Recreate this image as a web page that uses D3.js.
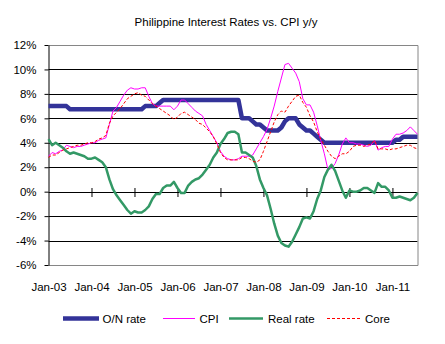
<!DOCTYPE html>
<html><head><meta charset="utf-8">
<script src="https://cdn.jsdelivr.net/npm/d3@7"></script>
<style>
html,body{margin:0;padding:0;background:#fff;}
svg text{font-family:"Liberation Sans",Arial,sans-serif;fill:#000;}
</style></head>
<body><svg id="chart" width="445" height="344"></svg>
<script>
// Monthly data, Jan-2003 .. Aug-2011 (index 0 = Jan-2003)
const startYear = 2003;
const onRate = [7,7,7,7,7,7,
 6.75,6.75,6.75,6.75,6.75,6.75,6.75,6.75,6.75,6.75,6.75,6.75,6.75,6.75,6.75,6.75,6.75,6.75,6.75,6.75,6.75,
 7,7,7,7,7.25,
 7.5,7.5,7.5,7.5,7.5,7.5,7.5,7.5,7.5,7.5,7.5,7.5,7.5,7.5,7.5,7.5,7.5,7.5,7.5,7.5,7.5,7.5,
 6,6,6,5.75,5.5,5.5,5.25,5,5,5,5,5.25,5.75,6,6,6,
 5.5,5.25,5,5,4.75,4.5,4.25,
 4,4,4,4,4,4,4,4,4,4,4,4,4,4,4,4,4,4,4,4,
 4.25,4.25,4.5,4.5,4.5,4.5,4.5];
const cpi = [2.9,3.2,3.1,3.3,3.4,3.8,3.7,3.6,3.7,3.7,3.8,3.9,
 4.0,4.0,4.2,4.3,4.4,5.5,6.6,6.9,7.4,7.9,8.3,8.5,
 8.4,8.4,8.5,8.5,7.8,7.2,7.0,7.0,7.0,7.0,7.0,6.7,
 7.0,7.5,7.5,7.2,6.9,6.6,6.4,6.2,5.5,5.0,4.5,4.0,
 3.3,2.9,2.7,2.6,2.6,2.7,2.9,2.9,2.9,3.0,3.5,4.0,
 4.5,5.1,6.0,7.0,8.2,9.3,10.4,10.5,10.1,9.7,9.0,7.6,
 7.1,7.1,6.5,5.4,4.2,3.1,1.8,1.9,2.3,3.0,3.9,4.4,
 4.0,4.0,3.9,3.9,3.8,3.7,3.8,4.2,3.4,3.6,3.7,3.7,
 4.3,4.7,4.7,4.8,5.0,5.3,5.0,4.7];
const realRate = [4.3,3.8,4.0,3.8,3.6,3.3,3.1,3.2,3.1,3.0,2.9,2.7,
 2.7,2.8,2.6,2.4,2.0,1.0,0.2,-0.3,-0.7,-1.1,-1.5,-1.8,
 -1.6,-1.7,-1.7,-1.5,-1.2,-0.6,-0.2,-0.2,0.3,0.5,0.5,0.8,
 0.3,-0.1,-0.1,0.5,0.8,1.0,1.1,1.4,1.8,2.2,2.8,3.2,
 3.9,4.3,4.8,4.9,4.9,4.7,3.2,3.2,3.0,2.8,2.1,1.0,
 0.3,-0.3,-1.4,-2.6,-3.6,-4.2,-4.4,-4.5,-4.1,-3.5,-2.9,-2.2,
 -2.1,-2.2,-1.6,-0.6,0.1,1.2,1.8,2.2,1.7,0.9,0.1,-0.5,
 0.1,0.0,0.0,0.1,0.3,0.3,0.1,-0.1,0.7,0.4,0.4,0.1,
 -0.5,-0.5,-0.4,-0.5,-0.6,-0.7,-0.5,-0.1];
const core = [2.8,3.0,3.0,3.2,3.4,3.5,3.6,3.7,3.8,3.8,3.9,4.0,
 4.0,4.1,4.3,4.4,4.6,5.6,6.2,6.5,6.8,7.2,7.6,7.8,
 8.0,8.1,7.9,7.8,7.5,7.2,7.0,6.8,6.6,6.4,6.2,5.9,
 6.1,6.4,6.5,6.3,6.1,5.9,5.6,5.5,5.2,4.9,4.5,3.9,
 3.2,2.8,2.6,2.6,2.6,2.6,2.8,2.8,2.7,2.5,2.4,2.6,
 3.3,4.1,4.9,5.7,6.3,6.6,6.5,7.0,7.4,7.8,7.9,7.3,
 6.9,6.2,5.7,4.9,4.3,3.8,3.3,2.9,2.7,2.9,3.1,3.1,
 3.3,3.7,3.8,3.8,3.7,3.8,3.9,4.2,3.5,3.5,3.5,3.4,
 3.5,3.5,3.6,3.7,3.8,3.8,3.6,3.5];
const xTickLabels = ["Jan-03","Jan-04","Jan-05","Jan-06","Jan-07","Jan-08","Jan-09","Jan-10","Jan-11"];
const yTicks = [-6,-4,-2,0,2,4,6,8,10,12];
const seriesNames = ["O/N rate","CPI","Real rate","Core"];
const titleText = "Philippine Interest Rates vs. CPI y/y";

const svg = d3.select("#chart");
const L = 48.5, R = 417.5, T = 45, B = 265;
const x = d3.scaleLinear().domain([0, onRate.length - 1]).range([L, R]);
const y = d3.scaleLinear().domain([-6, 12]).range([B, T]);

svg.append("text").attr("x", 226).attr("y", 26).attr("text-anchor","middle")
  .style("font-size","11.5px").text(titleText);

// gridlines
svg.append("g").selectAll("line").data(yTicks.filter(d => d > -6 && d < 12)).join("line")
  .attr("x1", L).attr("x2", R).attr("y1", d => Math.round(y(d))+0.5).attr("y2", d => Math.round(y(d))+0.5)
  .attr("stroke","#000").attr("stroke-width",1);
// plot border (top, right, bottom)
svg.append("path").attr("d", `M${L},${T+0.5}H${R+0.5}V${B+0.5}H${L}`)
  .attr("fill","none").attr("stroke","#868686").attr("stroke-width",1);

// y axis
const yAxis = svg.append("g").attr("transform", `translate(${L},0)`)
  .call(d3.axisLeft(y).tickValues(yTicks).tickFormat(d => d + "%").tickSizeInner(4).tickSizeOuter(0).tickPadding(8));
yAxis.selectAll("text").style("font-size","11.5px").style("font-family","Liberation Sans, Arial, sans-serif");
yAxis.select(".domain").attr("stroke","#000");
yAxis.selectAll(".tick line").attr("stroke","#000");

// x axis ticks crossing at 0
const monthTicks = xTickLabels.map((d,i) => i*12);
const y0 = Math.round(y(0)) + 0.5;
const xTickAxis = svg.append("g").attr("transform", `translate(0,${y0-4.5})`)
  .call(d3.axisBottom(x).tickValues(monthTicks.slice(1)).tickSize(9).tickFormat(""));
xTickAxis.select(".domain").remove();
xTickAxis.selectAll(".tick line").attr("stroke","#000");

// x labels at bottom
const xLab = svg.append("g").attr("transform", `translate(0,${B})`)
  .call(d3.axisBottom(x).tickValues(monthTicks).tickSize(0).tickPadding(17.5).tickFormat((d,i) => xTickLabels[i]));
xLab.select(".domain").remove();
xLab.selectAll("text").style("font-size","11.5px").style("font-family","Liberation Sans, Arial, sans-serif");

const line = d3.line().x((d,i) => x(i)).y(d => y(d));
const styles = [
  {data: onRate, color:"#333399", w:4.5, dash:null},
  {data: cpi, color:"#FF00FF", w:1, dash:null},
  {data: realRate, color:"#339966", w:2.5, dash:null},
  {data: core, color:"#FF0000", w:1, dash:"3,2"}
];
styles.forEach(s => {
  svg.append("path").datum(s.data).attr("d", line).attr("fill","none")
    .attr("stroke", s.color).attr("stroke-width", s.w).attr("stroke-linejoin","round")
    .attr("stroke-dasharray", s.dash);
});

// legend
const legX = [[63,99,102.5],[163,195,199.5],[229,263,268],[327,361,365]];
const lg = svg.append("g");
styles.forEach((s,i) => {
  lg.append("line").attr("x1", legX[i][0]).attr("x2", legX[i][1]).attr("y1", 318.5).attr("y2", 318.5)
    .attr("stroke", s.color).attr("stroke-width", s.w).attr("stroke-dasharray", s.dash);
  lg.append("text").attr("x", legX[i][2]).attr("y", 322.5).style("font-size","11.5px").text(seriesNames[i]);
});
</script>
</body></html>
